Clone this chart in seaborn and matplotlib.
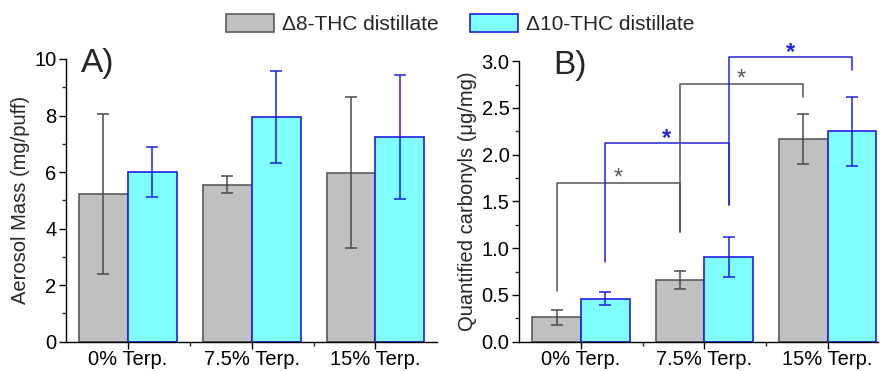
import numpy as np
import pandas as pd
import matplotlib.pyplot as plt
import seaborn as sns
from matplotlib.patches import Patch
from matplotlib.ticker import MultipleLocator, FixedLocator

sns.set_style("white")
plt.rcParams['font.family'] = ['Liberation Sans', 'DejaVu Sans']

# data
groups = ['0% Terp.', '7.5% Terp.', '15% Terp.']
series = ['\u03948-THC distillate', '\u039410-THC distillate']

mass_d8 = [5.22, 5.55, 5.98]
mass_d8_err = [2.82, 0.30, 2.68]
mass_d10 = [6.01, 7.96, 7.24]
mass_d10_err = [0.88, 1.63, 2.20]

carb_d8 = [0.26, 0.66, 2.17]
carb_d8_err = [0.077, 0.10, 0.27]
carb_d10 = [0.46, 0.907, 2.25]
carb_d10_err = [0.07, 0.215, 0.37]

# brackets: (series index, group from, group to, y start, y top, y end)
brackets = [
    (0, 0, 1, 0.54, 1.70, 1.17),
    (1, 0, 1, 0.85, 2.12, 1.46),
    (0, 1, 2, 1.17, 2.76, 2.62),
    (1, 1, 2, 1.46, 3.05, 2.91),
]

fill_cols = ['#c0c0c0', '#80fdff']
edge_cols = ['#5a5a5a', '#1f1fe0']
err_cols = ['#4a4a4a', '#1f1fe0']


def draw_panel(ax, v8, e8, v10, e10):
    df = pd.DataFrame({
        'group': groups * 2,
        'series': [series[0]] * 3 + [series[1]] * 3,
        'value': list(v8) + list(v10),
    })
    sns.barplot(data=df, x='group', y='value', hue='series', order=groups,
                hue_order=series, palette=fill_cols, width=0.79,
                legend=False, ax=ax, saturation=1)
    centers = {}
    bar_conts = list(ax.containers)
    for i, cont in enumerate(bar_conts):
        xs = [p.get_x() + p.get_width() / 2 for p in cont.patches]
        centers[i] = xs
        for p in cont.patches:
            p.set_edgecolor(edge_cols[i])
            p.set_linewidth(1.2)
        vals = [v8, v10][i]
        errs = [e8, e10][i]
        ax.errorbar(xs, vals, yerr=errs, fmt='none', ecolor=err_cols[i],
                    elinewidth=1.1, capsize=4, capthick=1.1, zorder=5)
    sns.despine(ax=ax)
    ax.set_xlabel('')
    ax.tick_params(axis='both', direction='out', labelsize=14.5, length=5,
                   width=1, colors='black', left=True, bottom=True, pad=2)
    ax.tick_params(axis='x', pad=1)
    ax.tick_params(which='minor', direction='out', length=3, width=1,
                   left=True, bottom=True)
    ax.xaxis.set_minor_locator(FixedLocator([0.5, 1.5]))
    for s in ['left', 'bottom']:
        ax.spines[s].set_color('black')
        ax.spines[s].set_linewidth(1)
    return centers


fig = plt.figure(figsize=(8.8, 3.71), dpi=100)
axA = fig.add_axes([0.075, 0.079, 0.422, 0.762])
axB = fig.add_axes([0.590, 0.079, 0.408, 0.756])

draw_panel(axA, mass_d8, mass_d8_err, mass_d10, mass_d10_err)
axA.set_xlim(-0.5, 2.5)
axA.set_ylim(0, 10)
axA.yaxis.set_major_locator(MultipleLocator(2))
axA.yaxis.set_minor_locator(MultipleLocator(1))
axA.set_ylabel('Aerosol Mass (mg/puff)', fontsize=14.5, labelpad=3)
axA.text(0.04, 0.985, 'A)', transform=axA.transAxes, fontsize=24,
         va='center', ha='left')

cB = draw_panel(axB, carb_d8, carb_d8_err, carb_d10, carb_d10_err)
axB.set_xlim(-0.5, 2.41)
axB.set_ylim(0, 3.0)
axB.yaxis.set_major_locator(MultipleLocator(0.5))
axB.yaxis.set_minor_locator(MultipleLocator(0.25))
axB.yaxis.set_major_formatter(plt.FormatStrFormatter('%.1f'))
axB.set_ylabel('Quantified carbonyls (\u03bcg/mg)', fontsize=14.5, labelpad=3)
axB.text(0.095, 0.985, 'B)', transform=axB.transAxes, fontsize=24,
         va='center', ha='left')

for s, g0, g1, y0, ytop, y1 in brackets:
    x0 = cB[s][g0]
    x1 = cB[s][g1]
    col = '#555555' if s == 0 else '#2424dd'
    axB.plot([x0, x0, x1, x1], [y0, ytop, ytop, y1], color=col, lw=1.1,
             clip_on=False, zorder=4)
    axB.text((x0 + x1) / 2, ytop - 0.075, '*', color=col, ha='center',
             va='bottom', fontsize=17, fontweight='bold' if s == 1 else 'normal',
             clip_on=False)

handles = [Patch(facecolor=fill_cols[i], edgecolor=edge_cols[i], lw=1.2,
                 label=series[i]) for i in range(2)]
fig.legend(handles=handles, loc='center', bbox_to_anchor=(0.523, 0.935),
           ncol=2, frameon=False, fontsize=15, handlelength=2.3,
           handleheight=0.95, columnspacing=1.5, handletextpad=0.4)

fig.savefig('out.png', dpi=100)
